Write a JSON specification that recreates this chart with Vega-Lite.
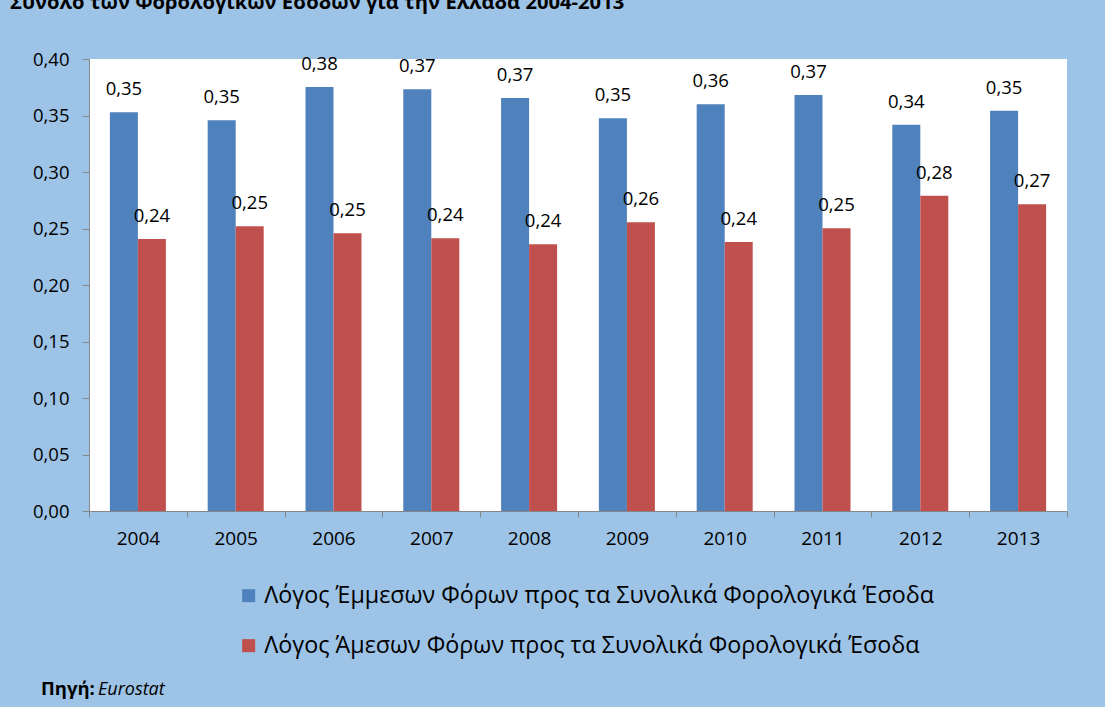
{
  "$schema": "https://vega.github.io/schema/vega-lite/v6.json",
  "autosize": {"type": "none"},
  "padding": {"left": 89, "top": 59, "right": 38, "bottom": 196},
  "width": 978,
  "height": 452,
  "background": "#9dc3e6",
  "title": {
    "text": "Σύνολο των Φορολογικών Εσόδων για την Ελλάδα 2004-2013",
    "anchor": "start",
    "frame": "group",
    "dx": -79,
    "dy": 3,
    "offset": 40,
    "fontSize": 20.2,
    "font": "Open Sans",
    "fontWeight": "bold",
    "color": "black"
  },
  "data": {
    "values": [
      {"year": "2004", "series": "Λόγος Έμμεσων Φόρων προς τα Συνολικά Φορολογικά Έσοδα", "value": 0.3528},
      {"year": "2004", "series": "Λόγος Άμεσων Φόρων προς τα Συνολικά Φορολογικά Έσοδα", "value": 0.2407},
      {"year": "2005", "series": "Λόγος Έμμεσων Φόρων προς τα Συνολικά Φορολογικά Έσοδα", "value": 0.3457},
      {"year": "2005", "series": "Λόγος Άμεσων Φόρων προς τα Συνολικά Φορολογικά Έσοδα", "value": 0.2520},
      {"year": "2006", "series": "Λόγος Έμμεσων Φόρων προς τα Συνολικά Φορολογικά Έσοδα", "value": 0.3752},
      {"year": "2006", "series": "Λόγος Άμεσων Φόρων προς τα Συνολικά Φορολογικά Έσοδα", "value": 0.2458},
      {"year": "2007", "series": "Λόγος Έμμεσων Φόρων προς τα Συνολικά Φορολογικά Έσοδα", "value": 0.3732},
      {"year": "2007", "series": "Λόγος Άμεσων Φόρων προς τα Συνολικά Φορολογικά Έσοδα", "value": 0.2413},
      {"year": "2008", "series": "Λόγος Έμμεσων Φόρων προς τα Συνολικά Φορολογικά Έσοδα", "value": 0.3655},
      {"year": "2008", "series": "Λόγος Άμεσων Φόρων προς τα Συνολικά Φορολογικά Έσοδα", "value": 0.2360},
      {"year": "2009", "series": "Λόγος Έμμεσων Φόρων προς τα Συνολικά Φορολογικά Έσοδα", "value": 0.3475},
      {"year": "2009", "series": "Λόγος Άμεσων Φόρων προς τα Συνολικά Φορολογικά Έσοδα", "value": 0.2555},
      {"year": "2010", "series": "Λόγος Έμμεσων Φόρων προς τα Συνολικά Φορολογικά Έσοδα", "value": 0.3599},
      {"year": "2010", "series": "Λόγος Άμεσων Φόρων προς τα Συνολικά Φορολογικά Έσοδα", "value": 0.2380},
      {"year": "2011", "series": "Λόγος Έμμεσων Φόρων προς τα Συνολικά Φορολογικά Έσοδα", "value": 0.3681},
      {"year": "2011", "series": "Λόγος Άμεσων Φόρων προς τα Συνολικά Φορολογικά Έσοδα", "value": 0.2502},
      {"year": "2012", "series": "Λόγος Έμμεσων Φόρων προς τα Συνολικά Φορολογικά Έσοδα", "value": 0.3419},
      {"year": "2012", "series": "Λόγος Άμεσων Φόρων προς τα Συνολικά Φορολογικά Έσοδα", "value": 0.2790},
      {"year": "2013", "series": "Λόγος Έμμεσων Φόρων προς τα Συνολικά Φορολογικά Έσοδα", "value": 0.3542},
      {"year": "2013", "series": "Λόγος Άμεσων Φόρων προς τα Συνολικά Φορολογικά Έσοδα", "value": 0.2714}
    ]
  },
  "encoding": {
    "x": {
      "field": "year",
      "type": "nominal",
      "scale": {"paddingInner": 0, "paddingOuter": 0},
      "axis": {
        "title": null,
        "tickBand": "extent",
        "labelAngle": 0,
        "domainColor": "#868686",
        "tickColor": "#868686",
        "tickSize": 6,
        "labelPadding": 12,
        "labelFontSize": 19,
        "labelFont": "Open Sans",
        "labelColor": "black"
      }
    },
    "y": {
      "field": "value",
      "type": "quantitative",
      "scale": {"domain": [0, 0.4], "nice": false},
      "axis": {
        "title": null,
        "grid": false,
        "values": [0, 0.05, 0.1, 0.15, 0.2, 0.25, 0.3, 0.35, 0.4],
        "format": ".2f",
        "domainColor": "#868686",
        "tickColor": "#868686",
        "tickSize": 7,
        "labelPadding": 13,
        "labelFontSize": 18.5,
        "labelFont": "Open Sans",
        "labelColor": "black"
      }
    },
    "xOffset": {
      "field": "series",
      "type": "nominal",
      "sort": null,
      "scale": {
        "domain": ["Λόγος Έμμεσων Φόρων προς τα Συνολικά Φορολογικά Έσοδα", "Λόγος Άμεσων Φόρων προς τα Συνολικά Φορολογικά Έσοδα"],
        "paddingInner": 0,
        "paddingOuter": 0.746
      }
    }
  },
  "layer": [
    {
      "mark": {"type": "bar"},
      "encoding": {
        "color": {
          "field": "series",
          "type": "nominal",
          "scale": {
            "domain": ["Λόγος Έμμεσων Φόρων προς τα Συνολικά Φορολογικά Έσοδα", "Λόγος Άμεσων Φόρων προς τα Συνολικά Φορολογικά Έσοδα"],
            "range": ["#4f81bd", "#c0504d"]
          },
          "legend": {
            "title": null,
            "orient": "none",
            "legendX": 148,
            "legendY": 525,
            "direction": "vertical",
            "symbolType": "square",
            "symbolSize": 169,
            "symbolStrokeWidth": 0,
            "labelFontSize": 23.3,
            "labelFont": "Open Sans",
            "labelColor": "black",
            "labelLimit": 0,
            "rowPadding": 26,
            "labelOffset": 4,
            "padding": 0
          }
        }
      }
    },
    {
      "mark": {"type": "text", "baseline": "alphabetic", "dy": -17, "fontSize": 18.5, "font": "Open Sans", "color": "black"},
      "encoding": {
        "text": {"field": "value", "type": "quantitative", "format": ".2f"}
      }
    },
    {
      "transform": [{"filter": {"field": "value", "equal": 0.3528}}],
      "mark": {"type": "text", "text": "Πηγή:", "align": "left", "baseline": "alphabetic", "dx": -48, "fontSize": 18.5, "font": "Open Sans", "fontWeight": "bold", "color": "black"},
      "encoding": {
        "x": {"datum": "2004"},
        "y": {"datum": -0.1628},
        "xOffset": {"value": 0}
      }
    },
    {
      "transform": [{"filter": {"field": "value", "equal": 0.3528}}],
      "mark": {"type": "text", "text": "Eurostat", "align": "left", "baseline": "alphabetic", "dx": 9, "fontSize": 18, "font": "Open Sans", "fontStyle": "italic", "color": "black"},
      "encoding": {
        "x": {"datum": "2004"},
        "y": {"datum": -0.1628},
        "xOffset": {"value": 0}
      }
    }
  ],
  "config": {
    "view": {"fill": "white", "stroke": null},
    "locale": {
      "number": {"decimal": ",", "thousands": ".", "grouping": [3], "currency": ["", " €"]}
    }
  }
}
